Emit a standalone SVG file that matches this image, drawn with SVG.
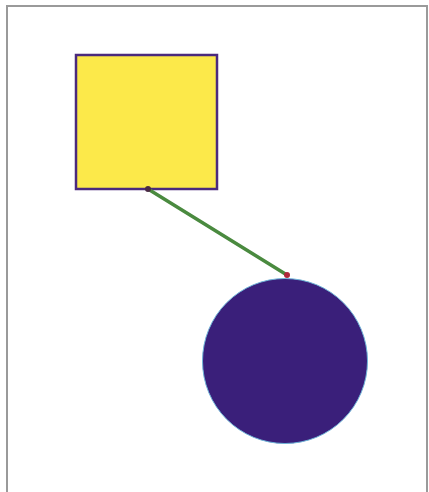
<svg xmlns="http://www.w3.org/2000/svg" width="429" height="492" viewBox="0 0 429 492">
  <style>
    .frame { fill: #ffffff; stroke: #9a9a9a; stroke-width: 2; }
    .box { fill: #fce94a; stroke: #4b2a7d; stroke-width: 2.5; }
    .ball { fill: #3a1f7a; stroke: #6fb4d8; stroke-width: 1; }
    .edge { stroke: #4a8a3f; stroke-width: 3.5; stroke-linecap: round; }
  </style>
  <rect width="429" height="492" fill="#ffffff"/>
  <rect class="frame" x="7" y="6" width="420" height="492"/>
  <g id="square">
    <rect class="box" x="76" y="55" width="141" height="134"/>
  </g>
  <g id="circle">
    <circle class="ball" cx="285" cy="361" r="82.5"/>
  </g>
  <g id="connectors">
    <line class="edge" x1="148" y1="189" x2="287" y2="275"/>
    <circle cx="148" cy="189" r="3" fill="#4a2a45"/>
    <circle cx="287" cy="275" r="3" fill="#b0283a"/>
  </g>
</svg>
